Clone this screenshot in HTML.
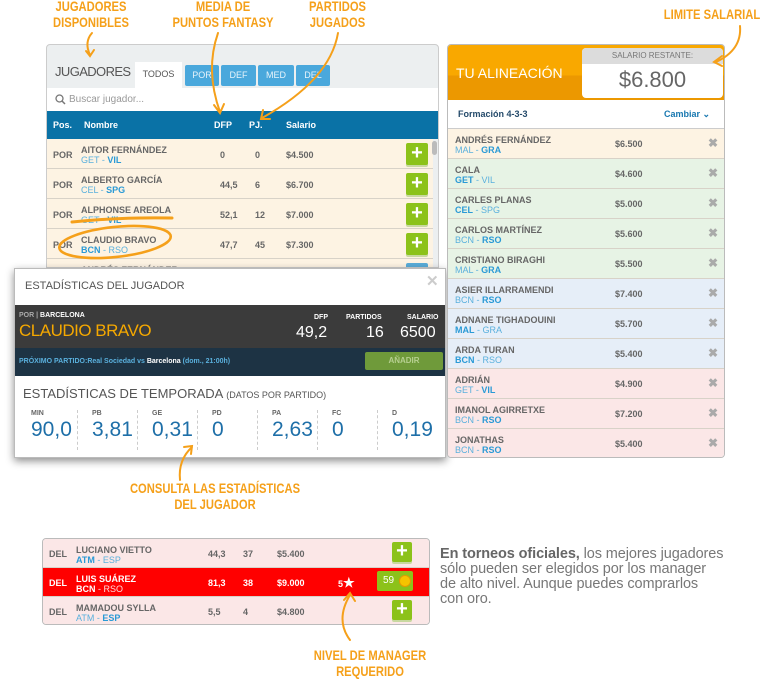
<!DOCTYPE html>
<html><head><meta charset="utf-8">
<style>
*{box-sizing:border-box;margin:0;padding:0}
body{width:769px;height:679px;background:#fff;position:relative;overflow:hidden;font-family:"Liberation Sans",sans-serif;color:#555}
.abs{position:absolute}
.ann{position:absolute;color:#f5a01a;font-family:"Liberation Sans",sans-serif;font-weight:bold;font-size:14px;line-height:16px;text-align:center;white-space:nowrap;transform:scaleX(.8);transform-origin:center top;z-index:10}
.row{position:absolute;height:30px;border-bottom:1px solid #d8d2c8;font-size:9px;font-weight:bold;color:#666}
.row span{position:absolute}
.nm{top:6px}
.tm{top:16px;color:#5ab0dd;font-weight:normal}
.tm b{color:#2a9ad6}
.plus{position:absolute;width:22px;height:22px;background:#8cc21a;border-radius:2px;color:#fff;font-size:20px;line-height:21px;text-align:center;font-weight:bold;box-shadow:0 2px 0 #c8d8a0}
.x{color:#aaa;font-size:12px}
.st{position:absolute;top:410px;height:40px;border-left:1px dashed #ccc;padding-left:14px}
.st i{display:block;font-style:normal;font-size:7px;font-weight:bold;color:#666}
.st b{display:block;font-weight:normal;font-size:21px;color:#1e6fa8;margin-top:1px}
</style></head><body>

<div class="ann" style="left:36px;top:-2px;width:110px">JUGADORES<br>DISPONIBLES</div>
<div class="ann" style="left:158px;top:-2px;width:130px">MEDIA DE<br>PUNTOS FANTASY</div>
<div class="ann" style="left:295px;top:-2px;width:85px">PARTIDOS<br>JUGADOS</div>
<div class="ann" style="left:642px;top:6px;width:140px">LIMITE SALARIAL</div>
<div class="ann" style="left:90px;top:480px;width:250px">CONSULTA LAS ESTADÍSTICAS<br>DEL JUGADOR</div>
<div class="ann" style="left:290px;top:647px;width:160px">NIVEL DE MANAGER<br>REQUERIDO</div>

<!-- Left players panel -->
<div class="abs" style="left:46px;top:44px;width:393px;height:224px;border:1px solid #ccc;border-radius:4px 4px 0 0;background:#eceff0;overflow:hidden">
 <div class="abs" style="left:8px;top:19px;font-size:13px;color:#555;letter-spacing:-0.6px">JUGADORES</div>
 <div class="abs" style="left:88px;top:17px;width:47px;height:26px;background:#fff;font-size:9px;text-align:center;line-height:24px">TODOS</div>
 <div class="abs" style="left:138px;top:20px;width:34px;height:21px;background:#4aa8dc;color:#e8f4fb;font-size:9px;text-align:center;line-height:21px;border-radius:2px">POR</div>
 <div class="abs" style="left:174px;top:20px;width:35px;height:21px;background:#4aa8dc;color:#e8f4fb;font-size:9px;text-align:center;line-height:21px;border-radius:2px">DEF</div>
 <div class="abs" style="left:211px;top:20px;width:36px;height:21px;background:#4aa8dc;color:#e8f4fb;font-size:9px;text-align:center;line-height:21px;border-radius:2px">MED</div>
 <div class="abs" style="left:249px;top:20px;width:34px;height:21px;background:#4aa8dc;color:#e8f4fb;font-size:9px;text-align:center;line-height:21px;border-radius:2px">DEL</div>
 <div class="abs" style="left:0;top:43px;width:393px;height:23px;background:#fff;font-size:10px;color:#999;line-height:23px;padding-left:22px">Buscar jugador...</div>
 <svg class="abs" style="left:8px;top:49px" width="11" height="11"><circle cx="4.5" cy="4.5" r="3.5" fill="none" stroke="#777" stroke-width="1.3"/><path d="M7 7 L10 10" stroke="#777" stroke-width="1.5"/></svg>
 <div class="abs" style="left:0;top:66px;width:393px;height:28px;background:#0a72a6;color:#fff;font-size:9px;font-weight:bold">
  <span class="abs" style="left:6px;top:9px">Pos.</span><span class="abs" style="left:37px;top:9px">Nombre</span>
  <span class="abs" style="left:167px;top:9px">DFP</span><span class="abs" style="left:202px;top:9px">PJ.</span><span class="abs" style="left:239px;top:9px">Salario</span>
 </div>
 <div id="lrows" class="abs" style="left:0;top:94px;width:386px;height:140px"></div>
 <div class="abs" style="left:385px;top:96px;width:5px;height:14px;background:#bbb;border-radius:3px"></div>
</div>

<!-- Modal -->
<div class="abs" style="left:14px;top:268px;width:432px;height:190px;background:#fff;border:1px solid #bbb;box-shadow:0 3px 8px rgba(0,0,0,.45)">
 <div class="abs" style="left:10px;top:11px;font-size:11px;color:#555">ESTADÍSTICAS DEL JUGADOR</div>
 <div class="abs" style="left:411px;top:3px;font-size:15px;color:#ccc;font-weight:bold">✕</div>
 <div class="abs" style="left:0;top:36px;width:430px;height:43px;background:#3b3b3b;color:#fff">
  <span class="abs" style="left:4px;top:7px;font-size:7px;font-weight:bold"><span style="color:#aaa;position:static">POR |</span> BARCELONA</span>
  <span class="abs" style="left:4px;top:16px;font-size:17px;color:#f5a800;letter-spacing:-0.5px">CLAUDIO BRAVO</span>
  <span class="abs" style="left:299px;top:9px;font-size:7px;font-weight:bold">DFP</span>
  <span class="abs" style="left:281px;top:19px;font-size:16px">49,2</span>
  <span class="abs" style="left:331px;top:9px;font-size:7px;font-weight:bold">PARTIDOS</span>
  <span class="abs" style="left:351px;top:19px;font-size:16px">16</span>
  <span class="abs" style="left:392px;top:9px;font-size:7px;font-weight:bold">SALARIO</span>
  <span class="abs" style="left:385px;top:19px;font-size:16px">6500</span>
 </div>
 <div class="abs" style="left:0;top:79px;width:430px;height:28px;background:#1d3344;font-size:7px;font-weight:bold;color:#5ab0dd">
  <span class="abs" style="left:4px;top:10px">PRÓXIMO PARTIDO:Real Sociedad vs <span style="color:#fff">Barcelona</span> (dom., 21:00h)</span>
  <div class="abs" style="left:350px;top:4px;width:78px;height:18px;background:#6f9a3a;border-radius:2px;color:#b6cf90;text-align:center;line-height:18px;font-size:8px">AÑADIR</div>
 </div>
 <div class="abs" style="left:8px;top:117px;font-size:13px;color:#555">ESTADÍSTICAS DE TEMPORADA <span style="font-size:9px">(DATOS POR PARTIDO)</span></div>
</div>
<div id="stats"></div>

<!-- Right lineup panel -->
<div class="abs" style="left:447px;top:44px;width:278px;height:414px;border:1px solid #bbb;border-radius:4px;overflow:hidden;background:#fff">
 <div class="abs" style="left:0;top:0;width:278px;height:55px;background:linear-gradient(#f9a800 55%,#ec9800 55%)">
  <span class="abs" style="left:8px;top:20px;font-size:14px;color:#fff">TU ALINEACIÓN</span>
  <div class="abs" style="left:134px;top:3px;width:141px;height:50px;background:#fff;border-radius:4px;overflow:hidden">
   <div style="height:16px;background:#dcdcdc;font-size:8px;color:#777;text-align:center;line-height:16px">SALARIO RESTANTE:</div>
   <div style="font-size:22px;color:#666;text-align:center;line-height:32px">$6.800</div>
  </div>
 </div>
 <div class="abs" style="left:10px;top:64px;font-size:9px;font-weight:bold;color:#244a6a">Formación 4-3-3</div>
 <div class="abs" style="left:216px;top:64px;font-size:9px;font-weight:bold;color:#1878b0">Cambiar ⌄</div>
 <div id="rrows" class="abs" style="left:0;top:83px;width:278px;height:331px;border-top:1px solid #ccc"></div>
</div>

<!-- Bottom table -->
<div class="abs" style="left:42px;top:538px;width:388px;height:87px;border:1px solid #bbb;border-radius:4px;overflow:hidden" id="btab"></div>

<div class="abs" style="left:440px;top:547px;width:320px;font-size:14.5px;line-height:15px;color:#777;white-space:nowrap;letter-spacing:-0.1px"><b style="color:#666">En torneos oficiales,</b> los mejores jugadores<br>sólo pueden ser elegidos por los manager<br>de alto nivel. Aunque puedes comprarlos<br>con oro.</div>

<svg class="abs" style="left:0;top:0;z-index:20" width="769" height="679">
<g fill="none" stroke="#f5a01a" stroke-width="2" stroke-linecap="round">
<path d="M92 33 Q84 42 90 55 M86 51 L90 56 L94 50"/>
<path d="M218 33 Q205 70 220 112 M214 105 L220 113 L224 104"/>
<path d="M338 33 Q330 80 262 118 M263 110 L261 119 L270 119"/>
<path d="M740 26 Q742 50 716 62 M722 56 L714 62 L722 66"/>
<path d="M72 222 Q120 217 172 218" stroke-width="3"/>
<ellipse cx="115" cy="242" rx="56" ry="15" transform="rotate(-6 115 242)" stroke-width="2.6"/>
<path d="M180 480 Q178 460 192 447 M184 447 L192 446 L191 454"/>
<path d="M350 640 Q335 620 350 595 M344 600 L350 593 L355 601"/>
</g></svg>

<script>
const leftNames=["AITOR FERNÁNDEZ","ALBERTO GARCÍA","ALPHONSE AREOLA","CLAUDIO BRAVO","ANDRÉS FERNÁNDEZ"];
const leftTeams=[["GET","VIL",1],["CEL","SPG",1],["GET","VIL",1],["BCN","RSO",0],["MAL","GRA",1]];
const leftDfp=["0","44,5","52,1","47,7",""];
const leftPj=["0","6","12","45",""];
const leftSal=["$4.500","$6.700","$7.000","$7.300",""];
function teamHtml(t){return t[2]?t[0]+' - <b>'+t[1]+'</b>':'<b>'+t[0]+'</b> - '+t[1];}
const L=document.getElementById('lrows');
leftNames.forEach((n,i)=>{
 const r=document.createElement('div');r.className='row';
 
 
 r.style.cssText=`left:0;top:${i*30}px;width:386px;background:#fdf3e3`;
 r.innerHTML=`<span style="left:6px;top:11px">POR</span><span class="nm" style="left:34px">${n}</span><span class="tm" style="left:34px">${teamHtml(leftTeams[i])}</span><span style="left:173px;top:11px">${leftDfp[i]}</span><span style="left:208px;top:11px">${leftPj[i]}</span><span style="left:239px;top:11px">${leftSal[i]}</span>`;
 const p=document.createElement('div');p.className='plus';p.textContent='+';
 
 
 p.style.left='359px';p.style.top='4px';if(i==4)p.style.background='#5aacd8';
 r.appendChild(p);L.appendChild(r);
});
const statLabels=["MIN","PB","GE","PD","PA","FC","D"];
const statValues=["90,0","3,81","0,31","0","2,63","0","0,19"];
const S=document.getElementById('stats');
statLabels.forEach((l,i)=>{
 const d=document.createElement('div');d.className='st';
 
 
 d.style.left=(17+i*60)+'px';if(i==0)d.style.borderLeft='none';
 d.innerHTML=`<i>${l}</i><b>${statValues[i]}</b>`;S.appendChild(d);
});
const rNames=["ANDRÉS FERNÁNDEZ","CALA","CARLES PLANAS","CARLOS MARTÍNEZ","CRISTIANO BIRAGHI","ASIER ILLARRAMENDI","ADNANE TIGHADOUINI","ARDA TURAN","ADRIÁN","IMANOL AGIRRETXE","JONATHAS"];
const rTeams=[["MAL","GRA",1],["GET","VIL",0],["CEL","SPG",0],["BCN","RSO",1],["MAL","GRA",1],["BCN","RSO",1],["MAL","GRA",0],["BCN","RSO",0],["GET","VIL",1],["BCN","RSO",1],["BCN","RSO",1]];
const rSal=["$6.500","$4.600","$5.000","$5.600","$5.500","$7.400","$5.700","$5.400","$4.900","$7.200","$5.400"];
const rBg=["#fdf3e3","#e7f3e5","#e7f3e5","#e7f3e5","#e7f3e5","#e6eef8","#e6eef8","#e6eef8","#fbe7e7","#fbe7e7","#fbe7e7"];
const R=document.getElementById('rrows');
rNames.forEach((n,i)=>{
 const r=document.createElement('div');r.className='row';
 
 
 r.style.cssText=`left:0;top:${i*30}px;width:278px;background:${rBg[i]}`;
 r.innerHTML=`<span class="nm" style="left:7px">${n}</span><span class="tm" style="left:7px">${teamHtml(rTeams[i])}</span><span style="left:167px;top:10px">${rSal[i]}</span><span class="x" style="left:260px;top:7px">✖</span>`;
 R.appendChild(r);
});
const bNames=["LUCIANO VIETTO","LUIS SUÁREZ","MAMADOU SYLLA"];
const bTeams=[["ATM","ESP",0],["BCN","RSO",0],["ATM","ESP",1]];
const bDfp=["44,3","81,3","5,5"];
const bPj=["37","38","4"];
const bSal=["$5.400","$9.000","$4.800"];
const B=document.getElementById('btab');
bNames.forEach((n,i)=>{
 const red=i==1;
 const r=document.createElement('div');r.className='row';
 
 
 r.style.cssText=`left:0;top:${i*29}px;width:388px;height:29px;background:${red?'#ff0000':'#fbe7e7'};color:${red?'#fff':'#666'}`;
 r.innerHTML=`<span style="left:6px;top:10px">DEL</span><span class="nm" style="left:33px">${n}</span><span class="tm" style="left:33px;${red?'color:#fdd':''}">${red?'<b style="color:#fff">BCN</b> - RSO':teamHtml(bTeams[i])}</span><span style="left:165px;top:10px">${bDfp[i]}</span><span style="left:200px;top:10px">${bPj[i]}</span><span style="left:234px;top:10px">${bSal[i]}</span>`;
 if(red){
  const s=document.createElement('span');s.style.cssText='left:295px;top:7px;font-size:9px';s.innerHTML='5<span style="position:static;font-size:13px">★</span>';
  
  
  r.appendChild(s);
  const g=document.createElement('div');g.style.cssText='position:absolute;left:334px;top:3px;width:36px;height:20px;background:#8cc21a;border-radius:2px;color:#fff;font-size:10px;line-height:20px;padding-left:6px;font-weight:normal';
  g.innerHTML='59<span style="position:absolute;left:22px;top:4px;width:12px;height:12px;border-radius:6px;background:#f5c400;border:1px solid #e39a00"></span>';
  
  
  r.appendChild(g);
 } else {
  const p=document.createElement('div');p.className='plus';p.textContent='+';
  
  
  p.style.left='349px';p.style.top='3px';p.style.width='20px';p.style.height='20px';p.style.lineHeight='19px';
  r.appendChild(p);
 }
 B.appendChild(r);
});
</script>
</body></html>
